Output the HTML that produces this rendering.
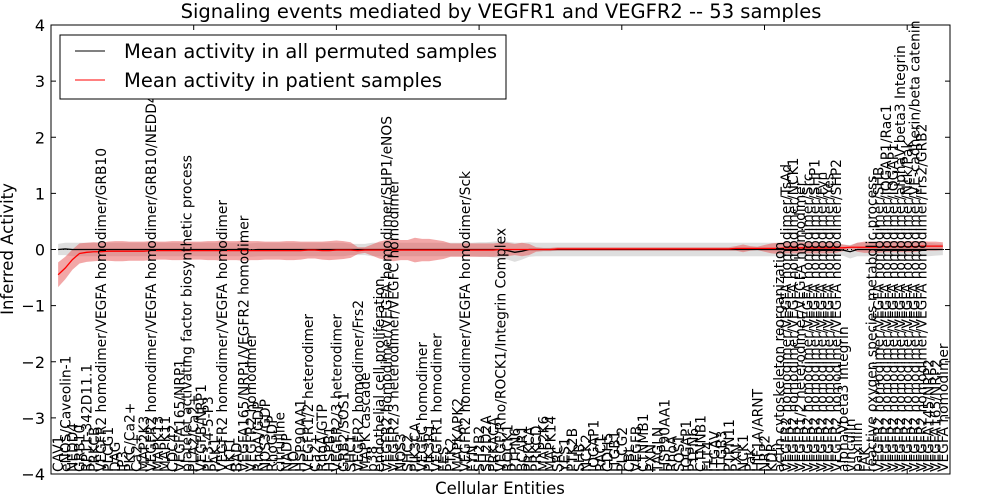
<!DOCTYPE html>
<html><head><meta charset="utf-8"><style>
html,body{margin:0;padding:0;background:#fff;}
svg{display:block;font-family:"DejaVu Sans","Liberation Sans",sans-serif;}
</style></head><body>
<svg id="chart" width="1000" height="500" viewBox="0 0 1000 500"></svg>
<script>
const labels=["CAV1","eNOS/Caveolin-1","NEDD4","GRB10","RP11-342D11.1","PRKCB","VEGFR2 homodimer/VEGFA homodimer/GRB10","PLCG1","DAG","IP3","PKC/Ca2+","Ca2+","MAP2K3","VEGFR2 homodimer/VEGFA homodimer/GRB10/NEDD4","MAPK13","MAPK11","CDC42","VEGFA165/NRP1","platelet activating factor biosynthetic process","PLA2/Ca2+","VEGFB/NRP1","PI-3-4-5-P3","PAK1","VEGFR2 homodimer/VEGFA homodimer","AKT1","BAD","VEGFA165/NRP1/VEGFR2 homodimer","VEGFR2 homodimer","RhoA/GDP","NOS3/GDP","RhoGDP","citrulline","NADP","NO","HSP90AA1","VEGFR1/2 heterodimer","Ca2+","RhoA/GTP","HSPB1","VEGFR2/3 heterodimer","GRB2/SOS1","SHC1","VEGFR2 homodimer/Frs2","MAPK cascade","p38","endothelial cell proliferation","VEGFR2 homodimer/VEGFA homodimer/SHP1/eNOS","VEGFR2/3 heterodimer/VEGFC homodimer","NOS3","SHC2","PIK3CA","VEGFC homodimer","PIK3R1","VEGFR1 homodimer","FES","PTK2","MAPKAPK2","VEGFR2 homodimer/VEGFA homodimer/Sck","FYN","SH2B2","SH2D2A","PRKACA","VEGF/Rho/ROCK1/Integrin Complex","ROCK1","PTPN6","BCAR1","PRKCA","PRKCD","MAP2K6","MAPK14","SRC","YES1","PTK2B","SHB","NCK2","IQGAP1","RAC1","CDH5","ITGB1","PLCG2","CBL","VEGFB","CTNMB1","PXN","TAGLN","HSP90AA1","RhoA","SOS1","IQGAP1","PTPN6","CTNNB1","FLT4","ITGAV","ITGB3","PTPN11","PXN","NCK1","Pak","HIF1A/ARNT","NRP2","KDR","actin cytoskeleton reorganization","VEGFR2 homodimer/VEGFA homodimer/TsAd","VEGFR2 homodimer/VEGFA homodimer/NCK1","VEGFR1/2 heterodimer/VEGFA homodimer","VEGFR2 homodimer/VEGFA homodimer/Src","VEGFR2 homodimer/VEGFA homodimer/SHP1","VEGFR2 homodimer/VEGFA homodimer/Fyn","VEGFR2 homodimer/VEGFA homodimer/Yes","VEGFR2 homodimer/VEGFA homodimer/SHP2","alphaVbeta3 Integrin","vinculin","paxillin","FAK","reactive oxygen species metabolic process","VEGFR2 homodimer/VEGFA homodimer/SHB","VEGFR2 homodimer/VEGFA homodimer/IQGAP1/Rac1","VEGFR2 homodimer/VEGFA homodimer/IQGAP1","VEGFR2 homodimer/VEGFA homodimer/alphaV beta3 Integrin","VEGFR2 homodimer/VEGFA homodimer/Nck/Pak","VEGFR2 homodimer/VEGFA homodimer/VE-cadherin/beta catenin","VEGFR2 homodimer/VEGFA homodimer/Frs2/GRB2","VEGFA145/NRP2","VEGFA165/NRP2","VEGFA homodimer"];
const patientMean=[-0.45,-0.33,-0.18,-0.07,-0.05,-0.04,-0.04,-0.03,-0.03,-0.03,
-0.03,-0.03,-0.03,-0.02,-0.02,-0.02,-0.02,-0.02,-0.02,-0.02,
-0.02,-0.02,-0.02,-0.02,-0.02,-0.02,-0.02,-0.02,-0.02,-0.02,
-0.02,-0.02,-0.02,-0.02,-0.02,-0.01,-0.01,-0.02,-0.02,-0.01,
-0.01,-0.01,-0.02,-0.01,-0.01,-0.01,-0.01,-0.01,-0.01,-0.01,
-0.01,-0.01,-0.01,-0.01,-0.01,-0.01,-0.01,-0.01,-0.01,-0.01,
-0.01,-0.01,0,0,0,0,0,0,0,0,
0.01,0.01,0.01,0.01,0.01,0.01,0.01,0.01,0.01,0.01,
0.01,0.01,0.01,0.01,0.01,0.01,0.01,0.01,0.01,0.01,
0.01,0.01,0.01,0.01,0.01,0.02,0.02,0.02,0.02,0.02,
0.02,0.02,0.03,0.03,0.03,0.03,0.03,0.03,0.03,0.03,
0.03,0.04,0.04,0.04,0.04,0.04,0.05,0.05,0.05,0.05,
0.05,0.06,0.06,0.06,0.06];
const patientSpread=[0.22,0.2,0.18,0.18,0.17,0.17,0.16,0.17,0.18,0.18,
0.17,0.17,0.17,0.17,0.16,0.16,0.17,0.17,0.16,0.16,
0.16,0.17,0.17,0.18,0.17,0.17,0.18,0.17,0.17,0.16,
0.16,0.16,0.17,0.17,0.16,0.15,0.15,0.16,0.17,0.17,
0.16,0.14,0.06,0.05,0.1,0.15,0.18,0.2,0.18,0.18,
0.22,0.2,0.2,0.18,0.16,0.12,0.12,0.12,0.12,0.12,
0.12,0.12,0.12,0.12,0.1,0.12,0.1,0.04,0.03,0.03,
0.03,0.03,0.03,0.03,0.03,0.03,0.03,0.03,0.03,0.03,
0.03,0.03,0.03,0.03,0.03,0.03,0.03,0.03,0.03,0.03,
0.03,0.03,0.03,0.03,0.03,0.04,0.07,0.04,0.03,0.06,
0.09,0.1,0.1,0.1,0.1,0.1,0.1,0.1,0.1,0.09,
0.06,0.03,0.08,0.1,0.1,0.1,0.1,0.1,0.1,0.1,
0.1,0.09,0.08,0.08,0.07];
const permMean=[0,0.01,0,0,0,0,0,0,0,0,
0,0,0,0,0,0,0,0,0,0,
0,0,0,0,0,0,0,-0.01,0,0,
0,0,0,0,0,0,0,0,0,0,
0,0,0,0,0,0,0,0,0,0,
0,0,0,0,0,0,0,0,0,0,
0,0,0,-0.02,-0.05,-0.03,0,0,0,0,
0,0,0,0,0,0,0,0,0,0,
0,0,0,0,0,0,0,0,0,0,
0,0,0,0,0,0,0,0,0,0,
0,0,0,0,0,0,0,0,0,0,
-0.01,-0.04,0,0,0,0,0,0,0,0,
0,0,0,0,0];
const permSpread=[0.1,0.11,0.12,0.12,0.12,0.12,0.12,0.12,0.12,0.12,
0.12,0.12,0.12,0.12,0.12,0.12,0.12,0.12,0.12,0.12,
0.12,0.12,0.12,0.12,0.12,0.12,0.12,0.12,0.12,0.12,
0.12,0.12,0.12,0.12,0.12,0.12,0.12,0.12,0.12,0.12,
0.12,0.1,0.1,0.1,0.12,0.12,0.12,0.12,0.12,0.12,
0.12,0.12,0.12,0.12,0.12,0.12,0.12,0.12,0.12,0.13,
0.13,0.14,0.15,0.16,0.17,0.15,0.13,0.12,0.12,0.12,
0.12,0.12,0.12,0.12,0.12,0.12,0.12,0.12,0.12,0.12,
0.12,0.12,0.12,0.12,0.12,0.12,0.12,0.12,0.12,0.12,
0.12,0.12,0.12,0.12,0.12,0.12,0.12,0.12,0.12,0.12,
0.12,0.12,0.12,0.12,0.12,0.12,0.12,0.12,0.12,0.12,
0.1,0.12,0.12,0.12,0.12,0.12,0.12,0.12,0.12,0.12,
0.12,0.12,0.12,0.11,0.1];
const yTicks=[-4,-3,-2,-1,0,1,2,3,4];
const xTicks=[20,40,60,80,100,120];

const svg=document.getElementById('chart');
const NS='http://www.w3.org/2000/svg';
const L=51,R=950,T=25,B=474;
const xmax=labels.length+1;
const xs=i=>L+(i)*(R-L)/xmax;
const ys=v=>B-(v+4)*(B-T)/8;
function mk(tag,attrs,parent){const e=document.createElementNS(NS,tag);for(const k in attrs)e.setAttribute(k,attrs[k]);(parent||svg).appendChild(e);return e;}

let t=mk('text',{x:501,y:18,'text-anchor':'middle','font-size':'19.5'});t.textContent='Signaling events mediated by VEGFR1 and VEGFR2 -- 53 samples';



function band(mean,spread,fill,name){
  let up=[],dn=[];
  mean.forEach((m,i)=>{up.push(xs(i+1)+','+ys(m+spread[i]));dn.unshift(xs(i+1)+','+ys(m-spread[i]));});
  const p=mk('polygon',{points:up.concat(dn).join(' '),fill:fill});
  
  
  return p;
}
function line(mean,color,name){
  const pts=mean.map((m,i)=>xs(i+1)+','+ys(m)).join(' ');
  const p=mk('polyline',{points:pts,fill:'none',stroke:color,'stroke-width':1.3});
  
  
}
band(permMean,permSpread,'rgba(190,190,190,0.5)','permuted-band');
band(patientMean,patientSpread,'rgba(230,80,80,0.5)','patient-band');
const z=mk('line',{x1:L,x2:R,y1:ys(0),y2:ys(0),stroke:'#000','stroke-width':1,'stroke-dasharray':'1,3'});


line(permMean,'#000','permuted-mean-line');
line(patientMean,'#ff0000','patient-mean-line');

labels.forEach((lab,i)=>{
  const x=xs(i+1);
  const tx=mk('text',{transform:`translate(${x+5},472) rotate(-90)`,'font-size':'13.8'});
  tx.textContent=lab;
  
  
});

const fr=mk('rect',{x:L,y:T,width:R-L,height:B-T,fill:'none',stroke:'#000','stroke-width':1});



yTicks.forEach(v=>{
  const y=ys(v);
  mk('line',{x1:L,x2:L+5,y1:y,y2:y,stroke:'#000'});
  mk('line',{x1:R-5,x2:R,y1:y,y2:y,stroke:'#000'});
  const tl=mk('text',{x:L-6,y:y+6,'text-anchor':'end','font-size':'16'});
  tl.textContent=v<0?'\u2212'+Math.abs(v):String(v);
  
  
});
xTicks.forEach(v=>{
  const x=xs(v);
  mk('line',{x1:x,x2:x,y1:T,y2:T+5,stroke:'#000'});
  mk('line',{x1:x,x2:x,y1:B-5,y2:B,stroke:'#000'});
});

let xl=mk('text',{x:500,y:494,'text-anchor':'middle','font-size':'16.5'});xl.textContent='Cellular Entities';


let yl=mk('text',{transform:'translate(13,249) rotate(-90)','text-anchor':'middle','font-size':'16.5'});yl.textContent='Inferred Activity';



const lg=mk('g',{});


mk('rect',{x:60,y:35,width:446,height:64,fill:'#fff',stroke:'#000','stroke-width':1},lg);
mk('line',{x1:75,x2:105,y1:51,y2:51,stroke:'#000'},lg);
mk('line',{x1:75,x2:105,y1:80,y2:80,stroke:'#ff0000'},lg);
let l1=mk('text',{x:124,y:58,'font-size':'19.5'},lg);l1.textContent='Mean activity in all permuted samples';


let l2=mk('text',{x:124,y:87,'font-size':'19.5'},lg);l2.textContent='Mean activity in patient samples';


</script>
</body></html>
